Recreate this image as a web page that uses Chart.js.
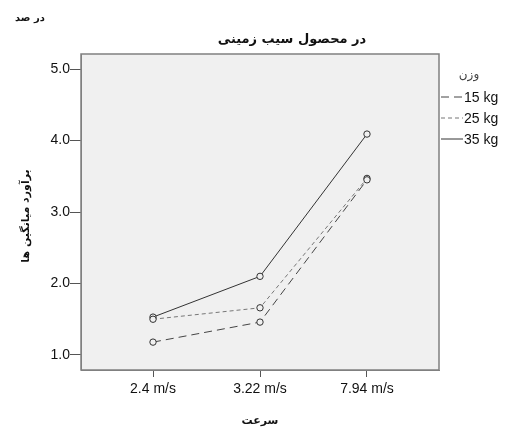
<!DOCTYPE html>
<html>
<head>
<meta charset="utf-8">
<script src="https://cdn.jsdelivr.net/npm/chart.js@4.4.1/dist/chart.umd.min.js"></script>
<style>
  body { margin: 0; background: #fff; }
  canvas { display: block; }
</style>
</head>
<body>
<canvas id="chart" width="506" height="429"></canvas>
<script>
const speeds = ['2.4 m/s', '3.22 m/s', '7.94 m/s'];
const weights = ['15 kg', '25 kg', '35 kg'];
const yTicks = [1, 2, 3, 4, 5];
const kg15 = [1.18, 1.46, 3.45];
const kg25 = [1.50, 1.66, 3.47];
const kg35 = [1.53, 2.10, 4.09];

const chartTitle = 'در محصول سیب زمینی';
const cornerText = 'در صد';
const yTitle = 'برآورد میانگین ها';
const xTitle = 'سرعت';
const legendTitle = 'وزن';

const persian = '"DejaVu Sans", sans-serif';
const latin = '"Liberation Sans", Arial, sans-serif';

function toPoints(vals) {
  return vals.map((v, i) => ({ x: i, y: v }));
}

function makeSet(label, vals, dash, color) {
  return {
    label: label,
    data: toPoints(vals),
    borderColor: color,
    borderWidth: 1,
    borderDash: dash,
    pointRadius: 3.2,
    pointBorderWidth: 1,
    pointBorderColor: '#333',
    pointBackgroundColor: '#f0f0f0',
    fill: false,
    tension: 0
  };
}

const extras = {
  id: 'extras',
  beforeDraw(chart) {
    const { ctx, chartArea: a } = chart;
    ctx.save();
    ctx.fillStyle = '#f0f0f0';
    ctx.fillRect(a.left, a.top, a.right - a.left, a.bottom - a.top);
    ctx.restore();
  },
  afterDraw(chart) {
    const { ctx, chartArea: a } = chart;
    ctx.save();
    // plot frame
    ctx.strokeStyle = '#808080';
    ctx.lineWidth = 1.5;
    ctx.strokeRect(a.left, a.top, a.right - a.left, a.bottom - a.top);

    ctx.fillStyle = '#111';
    ctx.textBaseline = 'middle';
    ctx.textAlign = 'center';
    ctx.font = 'bold 13px ' + persian;
    ctx.fillText(chartTitle, 292, 40);

    ctx.font = 'bold 10px ' + persian;
    ctx.fillText(cornerText, 30, 18);

    ctx.font = 'bold 11px ' + persian;
    ctx.fillText(xTitle, 260, 421);

    ctx.save();
    ctx.translate(26, 216);
    ctx.rotate(-Math.PI / 2);
    ctx.fillText(yTitle, 0, 0);
    ctx.restore();

    // legend
    ctx.fillStyle = '#444';
    ctx.font = '12px ' + persian;
    ctx.fillText(legendTitle, 469, 75);
    ctx.textAlign = 'left';
    ctx.font = '14px ' + latin;
    chart.data.datasets.forEach((ds, i) => {
      const y = 97 + i * 21;
      ctx.strokeStyle = ds.borderColor;
      ctx.lineWidth = 1;
      ctx.setLineDash(ds.borderDash);
      ctx.beginPath();
      ctx.moveTo(441, y);
      ctx.lineTo(463, y);
      ctx.stroke();
      ctx.setLineDash([]);
      ctx.fillStyle = '#111';
      ctx.fillText(ds.label, 464, y + 1);
    });
    ctx.restore();
  }
};

new Chart(document.getElementById('chart'), {
  type: 'line',
  data: {
    datasets: [
      makeSet(weights[0], kg15, [8, 5], '#444'),
      makeSet(weights[1], kg25, [4, 3], '#777'),
      makeSet(weights[2], kg35, [], '#333')
    ]
  },
  options: {
    responsive: false,
    animation: false,
    layout: { padding: { top: 54, right: 67, left: 0, bottom: 0 } },
    plugins: { legend: { display: false }, tooltip: { enabled: false } },
    scales: {
      x: {
        type: 'linear',
        min: -0.673,
        max: 2.673,
        afterBuildTicks: s => { s.ticks = speeds.map((_, i) => ({ value: i })); },
        afterFit: s => { s.height = 59; },
        ticks: {
          callback: v => speeds[v],
          color: '#111',
          font: { family: latin, size: 14 },
          padding: 4,
          maxRotation: 0
        },
        grid: { drawOnChartArea: false, drawTicks: true, tickLength: 7, color: '#555' },
        border: { color: '#808080' }
      },
      y: {
        min: 0.79,
        max: 5.21,
        afterBuildTicks: s => { s.ticks = yTicks.map(v => ({ value: v })); },
        afterFit: s => { s.width = 81; },
        ticks: {
          callback: v => v.toFixed(1),
          color: '#111',
          font: { family: latin, size: 14 },
          padding: 0
        },
        grid: { drawOnChartArea: false, drawTicks: true, tickLength: 11, color: '#555' },
        border: { color: '#808080' }
      }
    }
  },
  plugins: [extras]
});
</script>
</body>
</html>
